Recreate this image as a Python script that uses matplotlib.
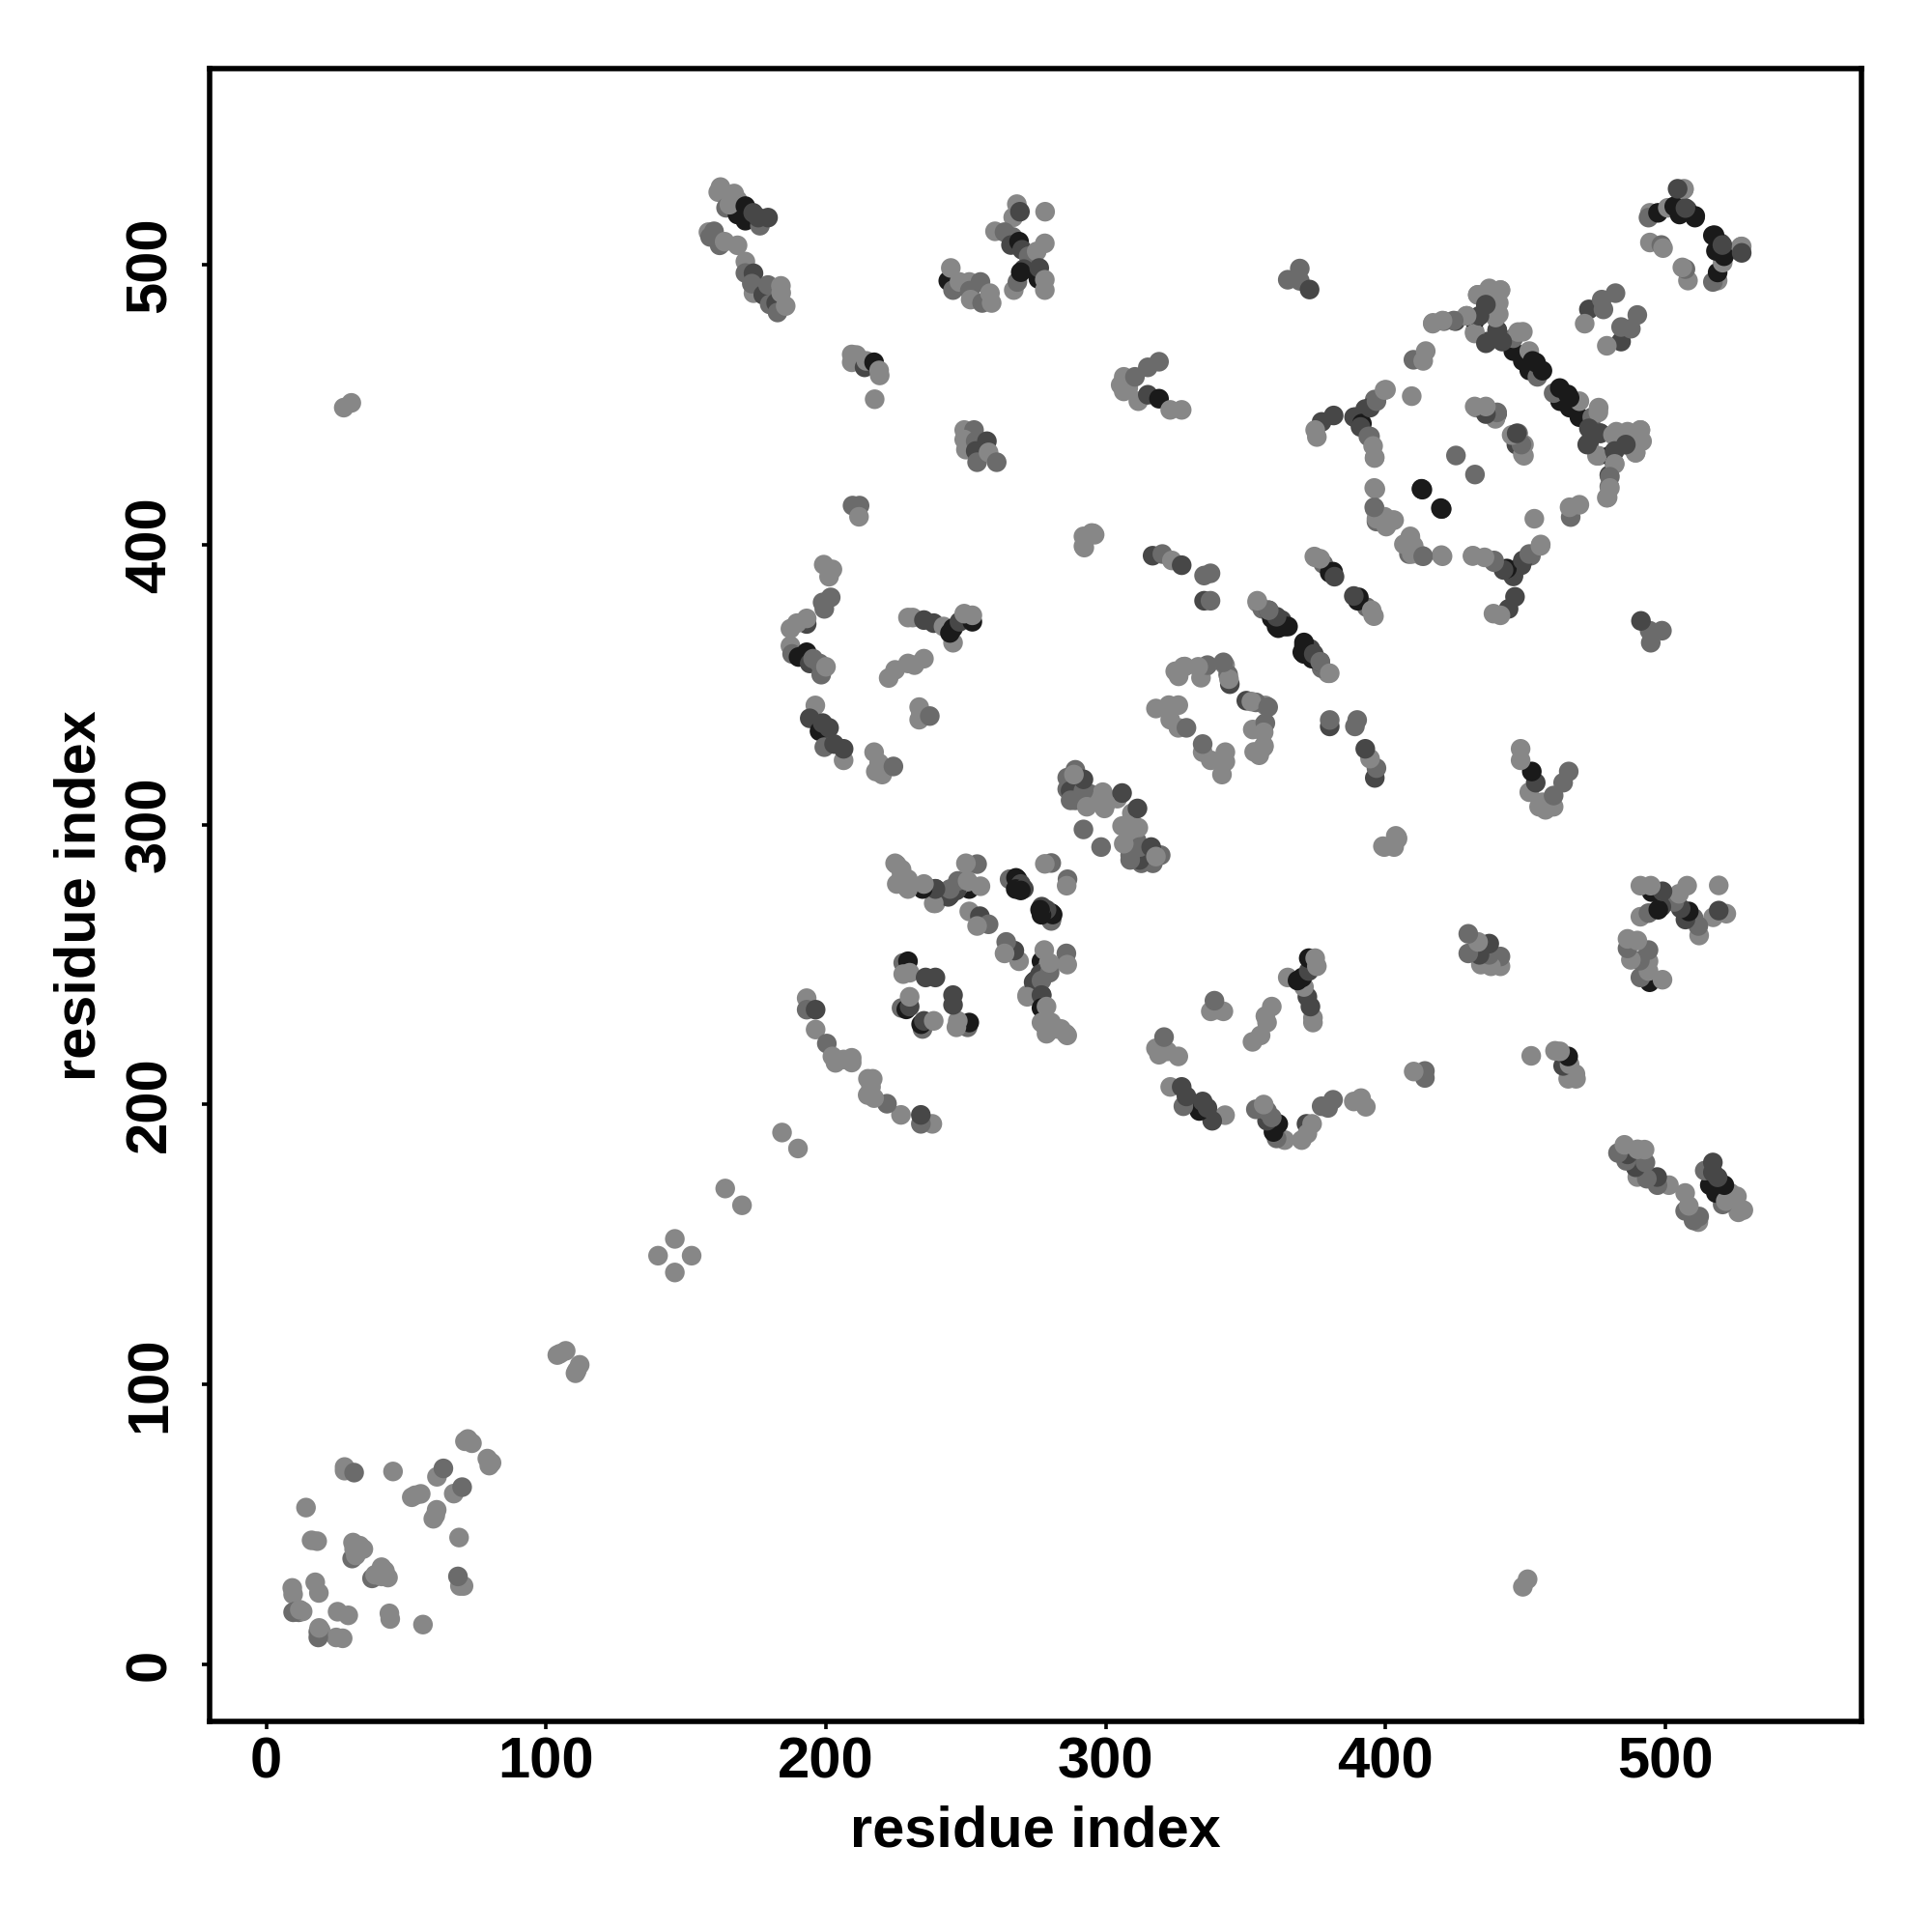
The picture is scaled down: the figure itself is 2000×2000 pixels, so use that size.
import matplotlib
matplotlib.use("Agg")
import matplotlib.pyplot as plt

L, M, D, K = 0.53, 0.42, 0.28, 0.1

tick_values = [0, 100, 200, 300, 400, 500]
x_label = "residue index"
y_label = "residue index"

# upper-triangle contacts (i, j, grey); the map is symmetric
near_diag_low = [
    (9.3,27.3,L),(9.6,25,L),(9.6,18.6,M),(11.6,18.6,M),(13,18.9,L),(18.9,10.4,M),(19.5,12,L),
    (17.5,29.3,L),(18.8,25.5,L),(14.2,56,L),(16.2,44.3,L),(18.2,44,L),
    (30.7,37.8,M),(32,38.9,L),(31,43.5,L),(33.4,42.4,L),(31.4,41.2,L),(34.7,41.2,L),
    (28,70.5,L),(28,69.2,L),(31.4,68.5,M),(45.3,68.9,L),(61,67,L),(63.3,70,M),
    (53.2,60.4,L),(52,59.7,L),(55.2,60.9,L),(71,79.7,L),(72,80.5,L),(73.5,79,L),
    (104,110.5,L),(105,111,L),(107,112,L),(140,146,L),(146,152,L),(164,170,L),(184.3,190,L),
]
strand_160 = [
    (162.3,527.8,L),(161.5,526,L),(167.2,525.5,L),(164.3,520.4,M),(168.4,518,K),(171.2,515.8,K),
    (165.5,521.5,L),(168.4,523.2,L),(171.2,521,K),(176.4,514,M),(174,518.6,D),(175.8,516.9,D),(179.3,516.9,D),
    (158,511.7,L),(160,512,M),(158.6,510,M),(162,507,M),(163.8,508.3,L),(168.4,507,L),
    (171.2,501.2,L),(171.2,497.1,M),(174.1,497,D),(174.1,489.9,L),(173.5,493.3,M),(177.6,489.3,D),
    (179.3,492.8,M),(179.9,485.9,M),(182.2,486.4,D),(182.7,483,M),(183.9,492.5,L),(185.6,485.3,L),(184,490,L),
]
cluster_245 = [
    (268.2,521.7,L),(266.9,517,L),(269.3,519,D),(278.3,519,L),
    (260.4,512,L),(263.8,511.7,M),(266.7,510,M),(266.1,507.1,D),(269,508.3,K),(270.1,505.4,D),
    (272.4,503.1,M),(278.2,507.7,L),(275.3,504.8,L),
    (267.1,491,L),(268.4,493.9,M),(270.7,498.5,D),(269.6,497.4,K),(275.9,495,K),(276.2,498.9,D),
    (278.2,494.7,L),(278.2,491,L),
    (243.7,494.3,K),(244.6,498.9,L),(245.4,491,M),(247.7,493.9,L),(251.2,493.9,L),(255.2,493.9,M),
    (251.4,490.8,M),(251.7,487.6,L),(255.8,486.4,M),(258.6,489.9,L),(259.2,486.4,L),
]
cluster_210 = [
    (209.2,468,L),(210.9,467.8,L),(209.2,465.2,L),(213.8,463.4,D),(214.4,465.7,L),(217.2,465.2,K),
    (219,462.3,L),(219.2,460.5,L),(217.4,452,L),(209.5,414,M),(212,414,M),(211.8,410,L),
]
cluster_250 = [
    (249.4,441,L),(252.9,441,M),(249.4,437.6,L),(250,434,L),(253.5,437,M),(253.5,433.5,D),(257.5,437,D),
    (254,429.5,M),(258.1,433,L),(261,429.5,M),
]
cluster_315 = [
    (305.3,457.1,L),(306.4,454.8,L),(308,456,L),(306.4,460,L),(310.4,460,M),(315,463.4,M),(319,465.4,M),
    (311.6,451.3,L),(315,453.6,D),(319,452.2,K),(323,448.2,L),(327.1,448.2,L),
    (365,494.7,M),(369.3,494.3,M),(369.3,498.7,M),(372.8,491.2,D),
    (27.7,449,L),(30.4,450.7,L),
]
cluster_190 = [
    (199.2,392.9,L),(202.3,391.2,L),(201.1,388.6,L),(198.8,379.4,M),(199.4,377.1,M),(201.7,381.2,M),
    (193.1,371.7,D),(193.1,373.7,L),(187.3,370,L),(189.6,372,L),
    (187.3,363.9,L),(187.9,361,M),(190.2,359.9,K),(193.1,361.6,K),(194.2,357.6,D),(195.4,359.3,M),
    (197.7,357.6,M),(198.3,353.6,M),(200,356.4,L),
    (229.3,374,L),(231,374,L),(235,373.1,D),(238.5,372,D),(242,370.8,L),(245.4,365,L),(244.3,368.5,K),
    (245.4,370.2,K),(247.7,372.5,D),(252.3,372.5,K),(249.4,375.4,L),(252.3,374.8,L),
    (235,359.3,L),(231.6,357,L),(229.3,357.6,L),(224.7,355.3,L),(222.4,352.4,L),
    (233.3,342,L),(233.3,337.5,L),(233.9,339.8,L),(237.1,338.8,M),
    (196.2,342.6,L),(194.2,338,D),(197.7,333.4,K),(198.8,336.3,D),(201.1,334.6,D),
    (199.4,327.7,M),(202.9,328.8,D),(206.3,323,L),(206.3,327.1,D),
    (217.2,325.9,L),(217.8,319,L),(220.1,317.9,L),(219,322,L),(224.1,320.8,M),
    (193.1,238,L),(193.1,233.9,M),(196.3,233.9,D),(196.3,226.8,L),(200.3,221.8,M),
    (202.3,217.2,L),(203.4,214.9,L),(206.3,216.1,L),(209.2,216.7,L),(209.2,215,L),
]
cluster_225 = [
    (225.3,285.7,L),(227,282.8,L),(229.3,280.5,L),(228.2,278.2,M),(235,278.2,M),(239.1,277.1,D),
    (239.1,271.9,L),(244.3,274.8,D),(251.2,277,K),(247.7,278.2,M),(250.6,279.6,L),(250.6,285.7,L),
    (254,285.9,M),(255.2,278,L),
    (266.1,280.5,K),(268.4,280.5,K),(265.6,280.5,M),(267.9,281,K),(269.6,278.8,D),(267.8,277,K),(270.7,277.1,D),(269.6,276.5,K),
    (280.5,286.3,M),(278.2,286,L),
    (251.2,269,L),(255,267.3,D),(258.1,264.4,M),(254,263.8,L),
    (227.6,250.6,M),(229.3,251.2,K),(229.9,247.1,L),(227.6,246.6,L),(235.6,245.4,D),(239.1,245.4,D),
    (227,234.5,M),(228.7,234,K),(229.9,235,D),(229.9,238.5,L),
    (246.6,276.5,D),(243.7,274.2,D),(244.3,277,M),(238.5,271.9,L),(239.1,277,D),(234.5,277,K),(235,278.8,L),
    (229.3,277,L),(229.3,279.9,L),(226.4,279.9,L),(227,284,L),(224.7,286.2,L),(225.3,278.8,L),
    (247.1,279.9,M),(250.6,279.9,L),(250,286.2,L),
]
blob_300 = [
    (289.1,319.6,M),(286.2,316.8,M),(291.2,316.2,D),(286.2,312.7,M),(287.4,312.1,D),(289.1,308.7,M),
    (294.3,311,M),(294.9,308.2,L),(298.9,311.6,L),(299.5,305.8,L),(304.1,309.3,L),(305.8,311.3,D),
    (292,298.3,M),(287.4,308.7,M),(292,312.1,M),(292,316.2,D),(288.6,317.9,L),(293.2,306.4,L),(300,307.5,L),
]
ring_340 = [
    (324.8,354.8,L),(326,353,L),(328.2,356.5,L),(334,352.5,L),(335.7,356.5,L),(336.3,357,M),
    (342.6,357,L),(343.7,353.6,M),(344.3,350.2,D),(344,352,L),(342,358,M),(333,356.4,L),(327.7,356.4,L),
    (317.9,341.5,L),(322.5,342.7,L),(325.9,342.7,L),(323,337.5,L),(325.9,334.6,L),(328.8,334.6,M),
    (316.7,396.1,D),(320.2,396.7,M),(323.6,394.4,L),(327.1,392.7,D),(335.1,389,M),(337.4,389.8,M),
    (335.1,380,D),(337.4,380,M),(292,403,L),(292.3,399,L),(294.9,404.2,L),(296,403.6,L),
    (295.5,404.1,L),(292,399.5,L),
]
strand_370 = [
    (354.1,379.4,L),(355.9,377.1,M),(358.2,376.6,D),(361.6,370.2,K),(359.3,373.7,K),(362.8,373.1,D),(365.1,370.8,K),
    (364,370.8,K),(361,370.8,K),(361,374.3,D),(358.2,376.6,M),(354.1,380,L),
    (374.5,395.8,L),(377.7,393.2,M),(380,390,K),(381.2,390.4,K),(381.7,388.6,D),
    (376.6,395,L),(374.8,395.5,L),
]
helix_400 = [
    (396.3,419.9,L),(412.8,419.9,M),(413.1,419.7,K),(412.8,420,K),(425.1,431.9,M),
    (396.1,412.8,L),(399.6,410,L),(402.4,408.8,L),(396.7,408.3,M),(403,408.8,L),(400.2,406.5,L),
    (396.7,409.3,L),(395.9,413.4,M),(395.9,420.3,L),(396,431,L),
    (409.9,466.1,M),(413.4,465.7,L),(414.3,469.2,L),(409.3,453.1,L),
    (400.1,455.4,L),(396.1,451.9,M),(392.7,448.5,D),(389.2,445.6,D),(388.7,445.6,D),(391.5,443.3,K),
    (394.4,449,D),(396.7,451.3,M),(399.6,455.3,L),(391,442.1,D),(393.8,438.7,M),
    (394.4,438.7,M),(395.5,435.3,L),(396.1,431.2,L),
    (381.4,446.2,D),(377.1,443.9,D),(374.8,441,L),(375.4,438.5,L),
    (432.3,449,L),(435.8,448.5,M),(439.2,445,L),(439.8,446.8,D),
    (445.6,439.3,L),(447.3,439.8,M),(446.7,435.8,D),(449.4,435.8,L),(449.4,431.8,L),
]
helix_430 = [
    (416.8,479,L),(420.8,479.9,M),(424.9,479.9,D),(428.9,481.8,L),(431.8,476.1,L),(431.8,480.1,K),
    (432.9,489.3,L),(436.9,491,L),(441,491,L),(435.8,485.9,D),(440.4,486.4,L),(440.4,482.4,L),
    (436.4,472.6,D),(439.8,476.7,D),(439.8,473.8,M),
    (445.6,469.2,K),(449,465.7,K),(445.6,473.8,M),(449,476.1,L),(451.3,469.2,L),(452.5,465.7,K),(451.3,462.3,K),
    (455.3,462.3,D),(454.2,460,M),(456,462.2,K),(453.7,465.1,K),
    (447.3,476,L),(441.6,472.6,D),(439.9,476.6,D),(431.8,475.5,L),(435.8,472,D),
    (439.3,481.2,L),(439.8,485.8,L),(441,491,L),(437,491.6,L),(432.9,489.3,L),
    (435.8,485.8,D),(433.5,481.8,D),(428.9,481.8,L),(424.3,480.1,M),(420.3,480.1,L),(416.9,479.3,L),
    (472.6,484.1,D),(477.2,487.6,M),(482.1,489.9,M),(477.8,484.1,M),(471.1,479,L),
]
cluster_500 = [
    (494.4,518.6,L),(493.9,516.9,M),(497.3,518.6,K),(500.8,520.4,L),(504.8,526.7,D),(506.5,526.9,L),
    (503.1,520.9,K),(507.7,519.8,D),(505,518,K),(510.5,516.9,K),
    (494.4,508,L),(498.5,507.1,M),(499.1,506,L),
    (510.6,517.5,K),(507.1,520.3,D),(506.6,527.2,L),(504.3,527.2,D),
]
clusters = [near_diag_low, strand_160, cluster_245, cluster_210, cluster_250, cluster_315,
            cluster_190, cluster_225, blob_300, ring_340, strand_370, helix_400, helix_430, cluster_500]

plt.rcParams["font.family"] = ["Liberation Sans", "DejaVu Sans"]
plt.rcParams["font.weight"] = "bold"

fig = plt.figure(figsize=(20, 20), dpi=100)
ax = fig.add_axes([216.8/2000, 1-1782/2000, (1927-216.8)/2000, (1782-71.4)/2000])

for cluster in clusters:
    xs = [c[0] for c in cluster]
    ys = [c[1] for c in cluster]
    greys = [str(c[2]) for c in cluster]
    ax.scatter(xs, ys, s=215, c=greys, linewidths=0, zorder=3)
    ax.scatter(ys, xs, s=215, c=greys, linewidths=0, zorder=3)

ax.set_xlim(-20.3, 570)
ax.set_ylim(-20.4, 570)
ax.set_xticks(tick_values)
ax.set_yticks(tick_values)
ax.set_xticklabels([str(v) for v in tick_values], fontsize=43, fontweight="bold")
ax.set_yticklabels([str(v) for v in tick_values], fontsize=43, fontweight="bold",
                   rotation=90, va="center")
ax.tick_params(axis="x", length=6, width=2.6, direction="out", pad=5)
ax.tick_params(axis="y", length=6, width=2.6, direction="out", pad=18)
for s in ax.spines.values():
    s.set_linewidth(4.0)
ax.set_xlabel(x_label, fontsize=42.8, fontweight="bold")
ax.set_ylabel(y_label, fontsize=42.8, fontweight="bold")
ax.xaxis.set_label_coords(0.5, -0.0505)
ax.yaxis.set_label_coords(-0.062, 0.5)

fig.savefig("out.png", dpi=100, facecolor="white")
